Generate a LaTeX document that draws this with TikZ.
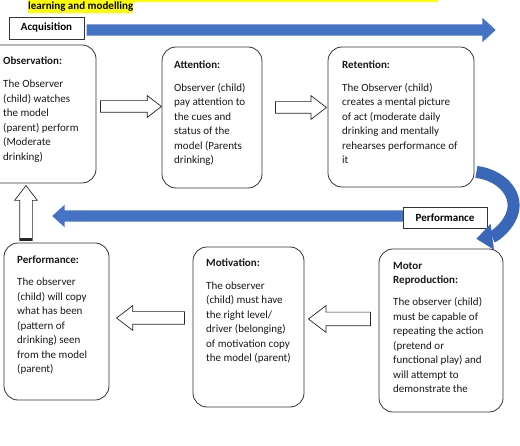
\documentclass[tikz,border=0pt]{standalone}
\usepackage{fontspec}
\setmainfont{Carlito}
\usetikzlibrary{arrows.meta, positioning, shapes.arrows}

\definecolor{acqblue}{HTML}{4472C4}
\definecolor{curveblue}{HTML}{3B67B8}
\definecolor{hlyellow}{HTML}{FFFF00}

\begin{document}
\begin{tikzpicture}[x=1pt, y=1pt,
    stage/.style={draw=black!80, line width=0.8pt, rounded corners=14pt, fill=white, inner sep=0pt},
    stagetext/.style={anchor=north west, align=left, inner sep=0pt, text=black!90, font=\fontsize{11}{14.5}\selectfont},
    tag/.style={draw=black!80, line width=0.8pt, fill=white, inner sep=0pt, font=\fontsize{11}{13}\selectfont\bfseries},
    hollowarr/.style={single arrow, draw=black!85, line width=0.7pt, fill=white, inner sep=0pt, text depth=0pt, single arrow tip angle=75, anchor=tip},
    bluearr/.style={single arrow, fill=acqblue, inner sep=0pt, text height=11pt, text depth=0pt, single arrow tip angle=85, anchor=tip},
    curvearr/.style={draw=curveblue, line width=12pt, -{Triangle[length=16pt, width=26pt, line width=0pt]}}
]

\useasboundingbox (0,0) rectangle (520,445);
\clip (0,0) rectangle (520,445);
\fill[white] (0,0) rectangle (520,445);

% Heading (cut off at the top)
\fill[hlyellow] (28,443) rectangle (438,445);
\node[anchor=base west, fill=hlyellow, inner xsep=0pt, inner ysep=1.5pt, font=\fontsize{11}{13}\selectfont\bfseries] (heading) at (28,435) {learning and modelling};

% Acquisition arrow
\node[bluearr, minimum height=409pt, single arrow head extend=6.5pt] (acqarrow) at (496,415) {};
\node[tag, minimum width=75pt, minimum height=22pt] (acq) at (46.5,417) {Acquisition};

% Performance arrow
\node[bluearr, rotate=180, minimum height=355pt, single arrow head extend=5.5pt] (perfarrow) at (52,229) {};
\node[tag, minimum width=84pt, minimum height=21pt] (perftag) at (445,227.5) {Performance};

% Stage boxes
\node[stage, minimum width=110pt, minimum height=138pt] (obs) at (41,331) {};
\node[stage, minimum width=100pt, minimum height=141pt] (att) at (212,327.5) {};
\node[stage, minimum width=146pt, minimum height=140pt] (ret) at (401,328) {};
\node[stage, minimum width=105pt, minimum height=157pt] (perf) at (56.5,123.5) {};
\node[stage, minimum width=111pt, minimum height=160pt] (motiv) at (248.5,118) {};
\node[stage, minimum width=124pt, minimum height=163pt] (motor) at (441,114.5) {};

% Stage texts
\node[stagetext] (obstext) at (3,388) {\textbf{Observation:}\\[8.5pt]
    The Observer\\(child) watches\\the model\\(parent) perform\\(Moderate\\drinking)};
\node[stagetext] (atttext) at (174,384) {\textbf{Attention:}\\[8pt]
    Observer (child)\\pay attention to\\the cues and\\status of the\\model (Parents\\drinking)};
\node[stagetext] (rettext) at (342,384) {\textbf{Retention:}\\[8pt]
    The Observer (child)\\creates a mental picture\\of act (moderate daily\\drinking and mentally\\rehearses performance of\\it};
\node[stagetext] (perftext) at (17,189) {\textbf{Performance:}\\[7.5pt]
    The observer\\(child) will copy\\what has been\\(pattern of\\drinking) seen\\from the model\\(parent)};
\node[stagetext] (motivtext) at (206,186) {\textbf{Motivation:}\\[8pt]
    The observer\\(child) must have\\the right level/\\driver (belonging)\\of motivation copy\\the model (parent)};
\node[stagetext] (motortext) at (393,183) {\textbf{Motor}\\\textbf{Reproduction:}\\[7.5pt]
    The observer (child)\\must be capable of\\repeating the action\\(pretend or\\functional play) and\\will attempt to\\demonstrate the};

% Hollow arrows between stages
\node[hollowarr, minimum height=61pt, text height=11pt, single arrow head extend=5pt] (obs2att) at (162,338.5) {};
\node[hollowarr, minimum height=51pt, text height=11pt, single arrow head extend=6pt] (att2ret) at (327,337.5) {};
\node[hollowarr, rotate=180, minimum height=62pt, text height=13pt, single arrow head extend=6.5pt] (motor2motiv) at (308,126) {};
\node[hollowarr, rotate=180, minimum height=68pt, text height=12pt, single arrow head extend=6pt] (motiv2perf) at (116,127) {};
\node[hollowarr, rotate=90, minimum height=55pt, text height=12pt, single arrow head extend=5pt] (perf2obs) at (26,260) {};
\draw[line width=3pt, black!85] ([xshift=-6pt, yshift=1.5pt]perf2obs.tail) -- ([xshift=6pt, yshift=1.5pt]perf2obs.tail);

% Curved arrow from retention down to motor reproduction
\draw[curvearr] ([shift={(2,15.5)}]ret.south east) arc[start angle=80, end angle=-80, x radius=45, y radius=34];

\end{tikzpicture}
\end{document}
